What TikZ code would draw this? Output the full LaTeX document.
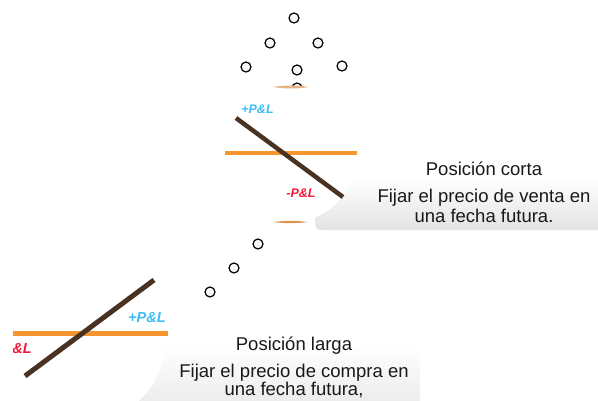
\documentclass[tikz,border=0pt]{standalone}
\usepackage{fontspec}
\setmainfont{Liberation Sans}
\definecolor{gain}{HTML}{3DBEF5}
\definecolor{loss}{HTML}{F5173A}
\definecolor{strike}{HTML}{F7962E}
\definecolor{payoff}{HTML}{4A3222}
\definecolor{rim}{HTML}{D99450}
\begin{document}
\begin{tikzpicture}[x=1pt,y=-1pt]
\tikzstyle{bubble}=[draw=black,line width=1.2pt,shape=circle,inner sep=0pt,minimum size=10pt,top color=white,bottom color=gray!12];
\tikzstyle{panel}=[top color=white,bottom color=black!11,rounded corners=6pt];
\tikzstyle{caption}=[inner sep=0pt,anchor=base,text=black!90,font=\fontsize{18.5}{20}\selectfont];
\tikzstyle{pl}=[inner sep=0pt,anchor=base,font=\bfseries\itshape];
\clip (0,0) rectangle (598,400);
% bubbles
\foreach \name/\x/\y in {b1/294/18,b2/270/43,b3/318/43,b4/246/67,b5/297/70,b6/342/66,b7/297/88,c1/258/244,c2/234/268,c3/210/292}
	\node[bubble] (\name) at (\x,\y) {};
% panels
\shade[panel] (315,178) rectangle (640,230);
\shade[panel] (120,345) rectangle (420,430);
\fill[white] (290,154.5) circle (67.5);
\fill[white] (90,345) circle (74);
% rims
\fill[rim!70] (273,87) .. controls (285,85) and (297,85) .. (309,87) .. controls (297,89) and (285,89) .. (273,87);
\fill[rim] (273,222) .. controls (285,220.5) and (297,220.5) .. (308,222) .. controls (297,223.5) and (285,223.5) .. (273,222);
% short position
\coordinate (s1) at (225,153);
\coordinate (s2) at (357,153);
\coordinate (t1) at (236,118);
\coordinate (t2) at (343,197);
\draw[strike,line width=4pt] (s1) -- (s2);
\draw[payoff,line width=4.5pt] (t1) -- (t2);
\node[pl,gain,font=\bfseries\itshape\fontsize{12.5}{14}\selectfont] (sgain) at (257.5,113) {+P\&L};
\node[pl,loss,font=\bfseries\itshape\fontsize{12.5}{14}\selectfont] (sloss) at (301,197) {-P\&L};
% long position
\begin{scope}
\clip (13,250) rectangle (168,400);
\coordinate (l1) at (13,333);
\coordinate (l2) at (168,333);
\coordinate (u1) at (25,376);
\coordinate (u2) at (154,280);
\draw[strike,line width=5pt] (l1) -- (l2);
\draw[payoff,line width=5pt] (u1) -- (u2);
\node[pl,gain,anchor=base west,font=\bfseries\itshape\fontsize{14.5}{16}\selectfont] (lgain) at (128,322) {+P\&L};
\node[pl,loss,anchor=base east,font=\bfseries\itshape\fontsize{14.5}{16}\selectfont] (lloss) at (32,353) {-P\&L};
\end{scope}
% captions
\node[caption] (corta) at (484,175) {Posición corta};
\node[caption] (venta1) at (484,202) {Fijar el precio de venta en};
\node[caption] (venta2) at (484,222) {una fecha futura.};
\node[caption] (larga) at (294,350) {Posición larga};
\node[caption] (compra1) at (294,377) {Fijar el precio de compra en};
\node[caption] (compra2) at (294,395) {una fecha futura,};
\end{tikzpicture}
\end{document}
